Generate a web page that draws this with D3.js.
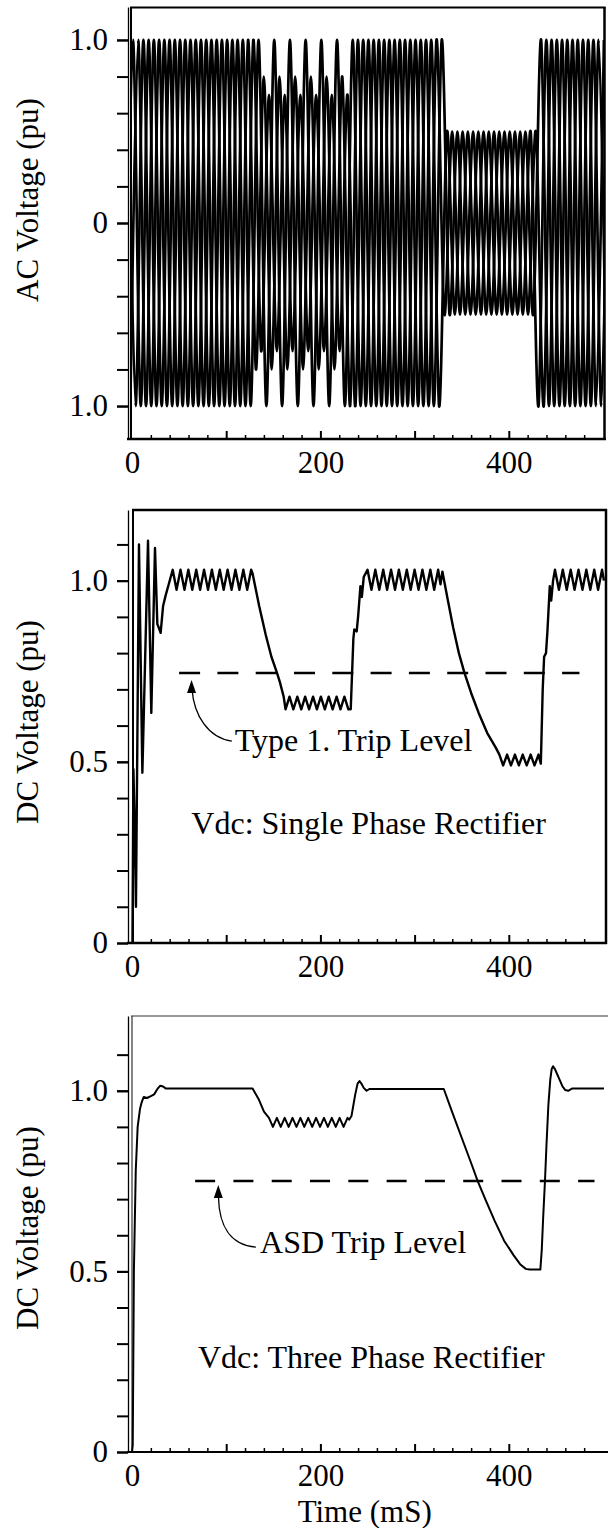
<!DOCTYPE html>
<html><head><meta charset="utf-8">
<script src="https://cdn.jsdelivr.net/npm/d3@7"></script>
<style>
body{margin:0;background:#fff}
svg{display:block}
text{font-family:"Liberation Serif","Times New Roman",serif;fill:#000}
</style>
</head><body>
<svg id="c" width="608" height="1528"></svg>
<script>
// ---------------- DATA ----------------
// AC voltage: successive extrema (pu) of each phase, one every half period
const acHalfPeriod = 8.333;          // ms
const acStartA = -7.33, acStartB = -1.78, acStartC = -4.55;   // ms, time of first extremum
const acPhaseA = [-1,1,-1,1,-1,1,-1,1,-1,1,-1,1,-1,1,-1,1,-1,
  1,-1,1,-1,1,-1,1,-1,1,-1,1,-1,
  1,-1,1,-1,1,-1,1,-1,1,-1,1,-1,
  0.5,-0.5,0.5,-0.5,0.5,-0.5,0.5,-0.5,0.5,-0.5,0.5,-0.5,
  1,-1,1,-1,1,-1,1,-1,1];
const acPhaseB = [-1,1,-1,1,-1,1,-1,1,-1,1,-1,1,-1,1,-1,1,
  -0.8,0.8,-0.8,0.8,-0.8,0.8,-0.8,0.8,-0.8,0.8,-0.8,0.8,
  -1,1,-1,1,-1,1,-1,1,-1,1,-1,1,
  -0.5,0.5,-0.5,0.5,-0.5,0.5,-0.5,0.5,-0.5,0.5,-0.5,0.5,
  -1,1,-1,1,-1,1,-1,1,-1,1];
const acPhaseC = [1,-1,1,-1,1,-1,1,-1,1,-1,1,-1,1,-1,1,-1,1,
  -0.7,0.7,-0.7,0.7,-0.7,0.7,-0.7,0.7,-0.7,0.7,-0.7,0.7,
  -1,1,-1,1,-1,1,-1,1,-1,1,-1,1,
  -0.5,0.5,-0.5,0.5,-0.5,0.5,-0.5,0.5,-0.5,0.5,-0.5,0.5,
  -1,1,-1,1,-1,1,-1,1,-1];

// DC voltage, single phase rectifier (time ms, value pu)
const dc1Time = [0,0.5,1.5,3.0,4.2,7.4,11,17,20.5,24.4,26.9,28.5,30.4,33,35.8,39,
  43.2,47.3,51.5,55.7,59.8,64,68.2,72.3,76.5,80.7,84.8,89,93.2,97.3,101.5,105.7,109.8,114,118.2,122.3,126.5,128,
  135,142,148,154,157,159,161,163,167.2,171.3,175.5,179.7,183.8,188,192.2,196.3,200.5,204.7,208.8,213,217.2,221.3,225.5,229.7,232.2,
  235,236,238.5,240,242.5,244,246,250,254.2,258.3,262.5,266.7,270.8,275,279.2,283.3,287.5,291.7,295.8,300,304.2,308.3,312.5,316.7,320.8,325,327.5,329.5,
  335,341,347,353,360,368,377,386,390,394,398.2,402.3,406.5,410.7,414.8,419,423.2,427.3,431.5,434,
  436,437.5,439.5,441,443.5,445,447,449,453.2,457.3,461.5,465.7,469.8,474,478.2,482.3,486.5,490.7,494.8,499,501];
const dc1Value = [0,0,0.48,0.3,0.1,1.1,0.47,1.11,0.635,1.09,0.88,0.87,0.856,0.93,0.96,0.99,
  1.03,0.975,1.03,0.975,1.03,0.975,1.03,0.975,1.03,0.975,1.03,0.975,1.03,0.975,1.03,0.975,1.03,0.975,1.03,0.975,1.03,1.02,
  0.93,0.85,0.79,0.745,0.72,0.70,0.68,0.645,0.68,0.645,0.68,0.645,0.68,0.645,0.68,0.645,0.68,0.645,0.68,0.645,0.68,0.645,0.68,0.645,0.645,
  0.84,0.865,0.86,0.9,0.985,0.955,1.01,1.03,0.975,1.03,0.975,1.03,0.975,1.03,0.975,1.03,0.975,1.03,0.975,1.03,0.975,1.03,0.975,1.03,0.975,1.03,0.99,1.025,
  0.95,0.87,0.80,0.745,0.69,0.635,0.58,0.54,0.52,0.49,0.52,0.49,0.52,0.49,0.52,0.49,0.52,0.49,0.52,0.495,
  0.7,0.79,0.8,0.86,0.985,0.945,1.0,1.03,0.975,1.03,0.975,1.03,0.975,1.03,0.975,1.03,0.975,1.03,0.975,1.03,1.0];

// DC voltage, three phase rectifier (time ms, value pu)
const dc3Time = [0,0.8,2,4,6,8.5,10.5,12.5,16,20,23.5,27,30,33,36,128,
  134.8,140.1,145.4,149.6,153.8,157.9,162.1,166.3,170.4,174.6,178.8,182.9,187.1,191.3,195.4,199.6,203.8,207.9,212.1,216.3,220.4,224.6,228.8,230.5,
  233,235,237,239.5,241.5,243.5,246,249,252,331,
  340,350,360,367,375,385,395,405,412,418,422,433.5,
  435,436.5,438.4,440,442,444,445.5,447,449,451.5,454,457,460,463,467,501];
const dc3Value = [0,0.02,0.5,0.78,0.9,0.95,0.97,0.983,0.98,0.985,0.99,1.005,1.014,1.012,1.006,1.006,
  0.975,0.942,0.925,0.90,0.925,0.90,0.925,0.90,0.925,0.90,0.925,0.90,0.925,0.90,0.925,0.90,0.925,0.90,0.925,0.90,0.925,0.90,0.925,0.92,
  0.93,0.96,0.99,1.02,1.027,1.02,1.008,1.0,1.005,1.005,
  0.94,0.87,0.80,0.75,0.70,0.64,0.585,0.545,0.52,0.507,0.505,0.505,
  0.56,0.65,0.75,0.85,0.96,1.03,1.06,1.068,1.06,1.045,1.03,1.012,1.002,1.0,1.006,1.006];

// trip levels (pu) and their time extent (ms)
const tripLevel1 = 0.745, tripSpan1 = [50, 475];
const tripLevel3 = 0.75,  tripSpan3 = [67, 491];

// ticks and labels
const xMinorTicks = [20,40,60,80,120,140,160,180,220,240,260,280,320,340,360,380,420,440,460,480];
const xMajorTicks = [100,200,300,400];
const xLabelValues = [0,200,400];
const acYTicks = [-1,-0.8,-0.6,-0.4,-0.2,0,0.2,0.4,0.6,0.8,1];
const acYLabelValues = [-1,0,1];
const acYLabelText = ["1.0","0","1.0"];
const dcYTicks = [0,0.1,0.2,0.3,0.4,0.5,0.6,0.7,0.8,0.9,1.0,1.1];
const dcYLabelValues = [0,0.5,1];
const dcYLabelText = ["0","0.5","1.0"];

// ---------------- DRAW ----------------
const svg = d3.select("#c");
const FS = 31;
const x = d3.scaleLinear().domain([0,500]).range([132,603]);
const y1 = d3.scaleLinear().domain([-1.18,1.18]).range([439,7]);
const y2 = d3.scaleLinear().domain([0,1.195]).range([943,510]);
const y3 = d3.scaleLinear().domain([0,1.207]).range([1452,1016]);

const defs = svg.append("defs");
function clip(id, y) {
  defs.append("clipPath").attr("id",id).append("rect")
    .attr("x", x(0)-1).attr("y", y.range()[1]).attr("width", x(500)-x(0)+3).attr("height", y.range()[0]-y.range()[1]);
}
clip("cp1",y1); clip("cp2",y2); clip("cp3",y3);

function yAxis(y, ticks, labVals, labText) {
  const g = svg.append("g").attr("transform","translate(128,0)");
  g.call(d3.axisLeft(y).tickValues(ticks).tickSize(11).tickSizeOuter(0).tickFormat(""));
  g.selectAll(".tick line").attr("stroke-width",2);
  g.select(".domain").attr("stroke-width",1.3);
  const gl = svg.append("g").attr("transform","translate(128,0)");
  gl.call(d3.axisLeft(y).tickValues(labVals).tickSize(11).tickPadding(9)
    .tickFormat((d,i)=>labText[i]));
  gl.select(".domain").remove();
  gl.selectAll(".tick line").attr("stroke-width",2);
  gl.selectAll("text").attr("font-size",FS).attr("font-family","Liberation Serif");
}
function xAxis(yPix) {
  const g1 = svg.append("g").attr("transform",`translate(0,${yPix})`);
  g1.call(d3.axisBottom(x).tickValues(xMinorTicks).tickSize(-4).tickFormat(""));
  g1.select(".domain").remove();
  g1.selectAll(".tick line").attr("stroke-width",1.5);
  const g2 = svg.append("g").attr("transform",`translate(0,${yPix})`);
  g2.call(d3.axisBottom(x).tickValues(xMajorTicks).tickSize(-8).tickFormat(""));
  g2.select(".domain").remove();
  g2.selectAll(".tick line").attr("stroke-width",2);
  const g3 = svg.append("g").attr("transform",`translate(0,${yPix})`);
  g3.call(d3.axisBottom(x).tickValues(xLabelValues).tickSize(0).tickPadding(12));
  g3.select(".domain").remove();
  g3.selectAll("text").attr("font-size",FS).attr("font-family","Liberation Serif");
}
function line(x1,ya,x2,yb,w,col) {
  svg.append("line").attr("x1",x1).attr("y1",ya).attr("x2",x2).attr("y2",yb)
    .attr("stroke",col||"#000").attr("stroke-width",w);
}
function yTitle(txt, cy) {
  svg.append("text").attr("transform",`translate(38,${cy}) rotate(-90)`)
    .attr("text-anchor","middle").attr("font-size",FS).text(txt);
}

// ----- Panel 1: AC voltage -----
yAxis(y1, acYTicks, acYLabelValues, acYLabelText);
xAxis(439);
line(131,7,131,439,2);
line(130,7.5,605.5,7.5,2);
line(604.5,7,604.5,440,2.5);
line(127,439,606,439,2.5);
yTitle("AC Voltage (pu)", 200);

const acLine = d3.line().curve(d3.curveCardinal.tension(0.1));
[[acStartA,acPhaseA],[acStartB,acPhaseB],[acStartC,acPhaseC]].forEach(([t0,vals])=>{
  svg.append("path").attr("clip-path","url(#cp1)")
    .attr("d", acLine(vals.map((v,i)=>[x(t0+i*acHalfPeriod), y1(v)])))
    .attr("fill","none").attr("stroke","#000").attr("stroke-width",2.7);
});

// ----- Panel 2: DC single phase -----
yAxis(y2, dcYTicks, dcYLabelValues, dcYLabelText);
xAxis(943);
line(133,510,133,943,2);
line(132,510,607,510,2.5);
line(606,509,606,944,2.5);
line(127,943,607,943,2.5);
yTitle("DC Voltage (pu)", 722);

svg.append("path").attr("clip-path","url(#cp2)")
  .attr("d", d3.line().x((d,i)=>x(dc1Time[i])).y(d=>y2(d))(dc1Value))
  .attr("fill","none").attr("stroke","#000").attr("stroke-width",2.4).attr("stroke-linejoin","round");

svg.append("line").attr("x1",x(tripSpan1[0])).attr("x2",x(tripSpan1[1]))
  .attr("y1",y2(tripLevel1)).attr("y2",y2(tripLevel1))
  .attr("stroke","#000").attr("stroke-width",2.5).attr("stroke-dasharray","21,17.3");

function arrow(xs, ys, pts) {
  // pts: tip, start, c1, c2, end (in data units)
  const P = pts.map(p=>[xs(p[0]), ys(p[1])]);
  const p = d3.path();
  p.moveTo(P[1][0],P[1][1]);
  p.bezierCurveTo(P[2][0],P[2][1],P[3][0],P[3][1],P[4][0],P[4][1]);
  svg.append("path").attr("d",p.toString()).attr("fill","none").attr("stroke","#000").attr("stroke-width",1.3);
  const tx = P[0][0], ty = P[0][1];
  svg.append("path").attr("d",`M${tx},${ty}L${tx-4.5},${ty+13}L${tx+4.5},${ty+13}Z`).attr("fill","#000");
}
arrow(x, y2, [[63.2,0.726],[63.7,0.700],[65.8,0.629],[80.7,0.566],[106,0.557]]);
svg.append("text").attr("x",x(109)).attr("y",y2(0.53)).attr("font-size",32).text("Type 1. Trip Level");
svg.append("text").attr("x",x(63)).attr("y",y2(0.301)).attr("font-size",32).text("Vdc: Single Phase Rectifier");

// ----- Panel 3: DC three phase -----
yAxis(y3, dcYTicks, dcYLabelValues, dcYLabelText);
xAxis(1452);
line(132,1016,132,1452,1.2,"#333");
line(131,1016,608,1016,1.2,"#333");
line(127,1452,608,1452,2.2);
yTitle("DC Voltage (pu)", 1228);

svg.append("path").attr("clip-path","url(#cp3)")
  .attr("d", d3.line().x((d,i)=>x(dc3Time[i])).y(d=>y3(d))(dc3Value))
  .attr("fill","none").attr("stroke","#000").attr("stroke-width",2).attr("stroke-linejoin","round");

svg.append("line").attr("x1",x(tripSpan3[0])).attr("x2",x(tripSpan3[1]))
  .attr("y1",y3(tripLevel3)).attr("y2",y3(tripLevel3))
  .attr("stroke","#000").attr("stroke-width",2.5).attr("stroke-dasharray","20,18.3");
arrow(x, y3, [[91.6,0.739],[91.8,0.706],[92.4,0.628],[104,0.573],[131.5,0.567]]);
svg.append("text").attr("x",x(136)).attr("y",y3(0.55)).attr("font-size",32).text("ASD Trip Level");
svg.append("text").attr("x",x(70)).attr("y",y3(0.2325)).attr("font-size",32).text("Vdc: Three Phase Rectifier");
svg.append("text").attr("x",x(247)).attr("y",1522).attr("text-anchor","middle").attr("font-size",FS).text("Time (mS)");
</script>
</body></html>
